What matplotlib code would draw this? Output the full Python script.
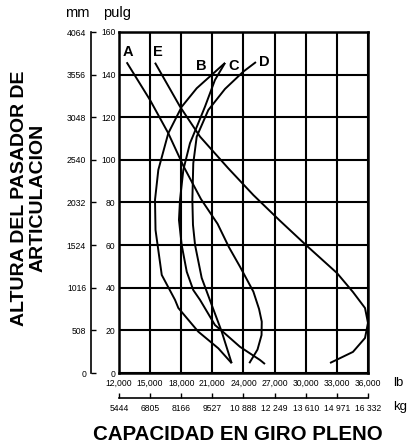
import matplotlib
matplotlib.use("Agg")
import matplotlib.pyplot as plt


# =========================================================
# DATA
# =========================================================
LB_TICKS = [12000, 15000, 18000, 21000, 24000, 27000, 30000, 33000, 36000]
KG_LABELS = ["5444", "6805", "8166", "9527", "10 888", "12 249", "13 610", "14 971", "16 332"]
PULG_TICKS = [0, 20, 40, 60, 80, 100, 120, 140, 160]
MM_TICKS = [0, 508, 1016, 1524, 2032, 2540, 3048, 3556, 4064]

# capacity (lb) vs pin height (pulg)
curve_a_lb = [12740, 14990, 16750, 18250, 19900, 21500, 22600, 23660, 24950, 25500, 25760, 25740, 25350, 24560]
curve_a_in = [145.8, 128.1, 112.5, 96.7, 81.6, 70.0, 59.0, 49.9, 38.2, 30.0, 24.1, 17.8, 11.0, 4.6]

curve_b_lb = [22220, 19490, 18040, 16750, 15790, 15470, 15520, 16120, 17400, 17720, 19640, 21570, 22860]
curve_b_in = [145.5, 133.6, 124.9, 112.5, 95.3, 81.2, 67.1, 46.0, 34.3, 30.5, 19.4, 11.6, 4.6]

curve_c_lb = [22220, 21250, 20290, 19640, 18840, 18200, 17880, 17780, 18040, 18530, 19160, 19810,
              21250, 22050, 23660, 25590, 26070]
curve_c_in = [145.5, 137.5, 125.0, 117.2, 107.8, 95.3, 81.2, 71.8, 60.1, 47.5, 38.9, 34.3,
              22.5, 19.2, 12.3, 6.1, 4.2]

curve_d_lb = [25200, 23980, 22220, 20610, 19490, 19160, 19070, 19130, 19330, 19970, 20940, 21900, 22860]
curve_d_in = [145.9, 141.4, 133.3, 123.4, 110.9, 98.4, 81.2, 69.5, 60.1, 44.6, 31.9, 19.4, 4.6]

curve_e_lb = [15470, 17880, 19810, 22540, 24950, 27500, 30120, 33010, 34550, 35710, 36000, 35710, 34550, 32340]
curve_e_in = [145.6, 125.0, 110.9, 96.0, 83.5, 71.5, 59.6, 46.9, 38.0, 30.5, 23.5, 16.4, 9.9, 4.7]

CURVES = [
    ("A", curve_a_lb, curve_a_in),
    ("B", curve_b_lb, curve_b_in),
    ("C", curve_c_lb, curve_c_in),
    ("D", curve_d_lb, curve_d_in),
    ("E", curve_e_lb, curve_e_in),
]

# label anchor points (lb, pulg)
LABEL_POS = {"A": (12840, 150.8), "E": (15790, 150.8), "B": (19970, 144.1),
             "C": (23020, 144.1), "D": (26000, 146.1)}

SANS = ["Liberation Sans", "DejaVu Sans"]

W, H = 412, 448


def fx(px):
    return px / W


def fy(py):
    return 1 - py / H


# =========================================================
# FIGURE
# =========================================================
fig = plt.figure(figsize=(W / 100, H / 100), dpi=100)

ax = fig.add_axes([fx(119), fy(373), (368 - 119) / W, (373 - 32) / H])
ax.set_xlim(LB_TICKS[0], LB_TICKS[-1])
ax.set_ylim(PULG_TICKS[0], PULG_TICKS[-1])
ax.set_xticks(LB_TICKS)
ax.set_xticklabels([f"{v:,}" for v in LB_TICKS], family=SANS, fontsize=6.2)
ax.set_yticks(PULG_TICKS)
ax.set_yticklabels([str(v) for v in PULG_TICKS], family=SANS, fontsize=6.2)
ax.tick_params(axis="x", length=0, pad=4)
ax.tick_params(axis="y", length=0, pad=2.5)
ax.grid(True, color="black", linewidth=1.5)
for sp in ax.spines.values():
    sp.set_linewidth(1.8)

for name, xs, ys in CURVES:
    ax.plot(xs, ys, color="black", linewidth=1.4, solid_capstyle="butt")
    lx, ly = LABEL_POS[name]
    ax.text(lx, ly, name, ha="center", va="center", fontsize=10.5,
            fontweight="bold", family=SANS)

# mm scale on the left
ax_mm = fig.add_axes([fx(91), fy(373), 0.0005, (373 - 32) / H])
ax_mm.set_ylim(MM_TICKS[0], MM_TICKS[-1])
ax_mm.set_yticks(MM_TICKS)
ax_mm.set_yticklabels([str(v) for v in MM_TICKS], family=SANS, fontsize=6.2)
ax_mm.set_xticks([])
for k in ["top", "right", "bottom"]:
    ax_mm.spines[k].set_visible(False)
ax_mm.spines["left"].set_linewidth(1.2)
ax_mm.tick_params(axis="y", direction="in", length=3.6, width=1.0, pad=3.5)
ax_mm.patch.set_visible(False)

# kg scale at the bottom
ax_kg = fig.add_axes([fx(119), fy(398), (368 - 119) / W, 0.0005])
ax_kg.set_xlim(LB_TICKS[0], LB_TICKS[-1])
ax_kg.set_xticks(LB_TICKS)
ax_kg.set_xticklabels(KG_LABELS, family=SANS, fontsize=6.2)
ax_kg.set_yticks([])
for k in ["top", "right", "left"]:
    ax_kg.spines[k].set_visible(False)
ax_kg.spines["bottom"].set_linewidth(1.2)
ax_kg.tick_params(axis="x", direction="in", length=3.6, width=1.0, pad=4)
ax_kg.patch.set_visible(False)

# unit labels
fig.text(fx(77), fy(17), "mm", ha="center", va="baseline", fontsize=10.5, family=SANS)
fig.text(fx(117), fy(17), "pulg", ha="center", va="baseline", fontsize=10.5, family=SANS)
fig.text(fx(393), fy(383), "lb", ha="left", va="center", fontsize=9.5, family=SANS)
fig.text(fx(393), fy(407), "kg", ha="left", va="center", fontsize=9.5, family=SANS)

# axis titles
fig.text(fx(28.5), fy(198), "ALTURA DEL PASADOR DE\nARTICULACION", rotation=90,
         ha="center", va="center", multialignment="center", linespacing=1.15,
         fontsize=14, fontweight="bold", family=SANS)
fig.text(fx(238), fy(434), "CAPACIDAD EN GIRO PLENO", ha="center", va="center",
         fontsize=14.8, fontweight="bold", family=SANS)

fig.savefig("out.png", dpi=100)
